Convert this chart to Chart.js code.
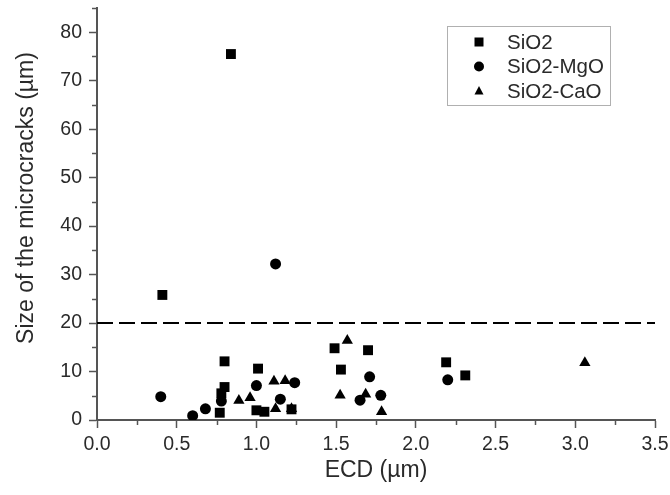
<!DOCTYPE html>
<html>
<head>
<meta charset="utf-8">
<script src="https://cdn.jsdelivr.net/npm/chart.js@4.4.1/dist/chart.umd.min.js"></script>
<style>
  html, body { margin: 0; padding: 0; background: #fff; }
</style>
</head>
<body>
<canvas id="grafico" width="670" height="495"></canvas>
<script>
// valores
const sio2X = [0.84, 0.41, 0.80, 0.78, 0.80, 0.77, 1.01, 1.00, 1.05, 1.22, 1.49, 1.53, 1.70, 2.19, 2.31];
const sio2Y = [75.5, 25.8, 12.1, 5.5, 6.8, 1.5, 10.6, 2.0, 1.7, 2.2, 14.8, 10.4, 14.4, 11.9, 9.2];

const mgoX = [0.40, 1.12, 0.60, 0.68, 0.78, 1.00, 1.15, 1.24, 1.65, 1.71, 1.78, 2.20];
const mgoY = [4.8, 32.2, 0.9, 2.3, 3.9, 7.1, 4.3, 7.7, 4.1, 8.9, 5.1, 8.3];

const caoX = [0.89, 0.96, 1.11, 1.18, 1.12, 1.22, 1.57, 1.525, 1.685, 1.785, 3.06];
const caoY = [4.0, 4.6, 8.0, 8.1, 2.3, 2.3, 16.4, 5.1, 5.3, 1.7, 11.8];

const limite = 20;
const xTicks = [0, 0.25, 0.5, 0.75, 1, 1.25, 1.5, 1.75, 2, 2.25, 2.5, 2.75, 3, 3.25, 3.5];
const yTicks = [0, 5, 10, 15, 20, 25, 30, 35, 40, 45, 50, 55, 60, 65, 70, 75, 80, 85];
const tituloY = 'Size of the microcracks (µm)';

const ejeColor = '#555';
const textoColor = '#2a2a2a';
const fuente = 'Liberation Sans, Arial, sans-serif';

function puntos(xs, ys) {
  return xs.map((x, i) => ({ x: x, y: ys[i] }));
}

function esMayorX(v) { return Math.abs(v * 2 - Math.round(v * 2)) < 1e-6; }
function esMayorY(v) { return v % 10 === 0 && v <= 80; }

// ticks menores mas cortos + titulo del eje y
const ticksMenores = {
  id: 'ticksMenores',
  afterDraw(chart) {
    const ctx = chart.ctx;
    const area = chart.chartArea;
    ctx.save();
    ctx.strokeStyle = ejeColor;
    ctx.lineWidth = 1.5;
    chart.scales.x.ticks.forEach(t => {
      if (esMayorX(t.value)) return;
      const px = Math.round(chart.scales.x.getPixelForValue(t.value)) + 0.5;
      ctx.beginPath();
      ctx.moveTo(px, area.bottom);
      ctx.lineTo(px, area.bottom + 5);
      ctx.stroke();
    });
    chart.scales.y.ticks.forEach(t => {
      if (esMayorY(t.value)) return;
      const py = Math.round(chart.scales.y.getPixelForValue(t.value)) + 0.5;
      ctx.beginPath();
      ctx.moveTo(area.left, py);
      ctx.lineTo(area.left - 5, py);
      ctx.stroke();
    });
    // titulo y, un poco por encima del centro como en el original
    ctx.translate(27, 198);
    ctx.rotate(-Math.PI / 2);
    ctx.font = '23px ' + fuente;
    ctx.fillStyle = textoColor;
    ctx.textAlign = 'center';
    ctx.textBaseline = 'middle';
    ctx.fillText(tituloY, 0, 0);
    ctx.restore();
  }
};

function dibujarMarca(ctx, estilo, x, y, r) {
  ctx.beginPath();
  if (estilo === 'rect') {
    ctx.rect(x - r, y - r, 2 * r, 2 * r);
  } else if (estilo === 'circle') {
    ctx.arc(x, y, r, 0, Math.PI * 2);
  } else {
    ctx.moveTo(x, y - r * 1.1);
    ctx.lineTo(x + r, y + r * 0.75);
    ctx.lineTo(x - r, y + r * 0.75);
    ctx.closePath();
  }
  ctx.fill();
}

// leyenda con recuadro dentro del area
const leyenda = {
  id: 'leyenda',
  afterDraw(chart) {
    const ctx = chart.ctx;
    const bx = 447, by = 26, bw = 163, bh = 79;
    ctx.save();
    ctx.strokeStyle = '#b0b0b0';
    ctx.lineWidth = 1;
    ctx.strokeRect(bx + 0.5, by + 0.5, bw, bh);
    ctx.font = '20.5px ' + fuente;
    ctx.textBaseline = 'middle';
    let fila = 0;
    chart.data.datasets.forEach(ds => {
      if (!ds.label) return;
      const cy = by + 16 + fila * 24.5;
      ctx.fillStyle = '#000';
      dibujarMarca(ctx, ds.pointStyle, bx + 32, cy, ds.pointStyle === 'circle' ? 5 : 4.5);
      ctx.fillStyle = textoColor;
      ctx.fillText(ds.label, bx + 60, cy + 1);
      fila++;
    });
    ctx.restore();
  }
};

new Chart(document.getElementById('grafico'), {
  type: 'scatter',
  data: {
    datasets: [{
      label: 'SiO2',
      data: puntos(sio2X, sio2Y),
      pointStyle: 'rect',
      pointRadius: 7,
      backgroundColor: '#000',
      borderColor: '#000',
      borderWidth: 0
    }, {
      label: 'SiO2-MgO',
      data: puntos(mgoX, mgoY),
      pointStyle: 'circle',
      pointRadius: 5.5,
      backgroundColor: '#000',
      borderColor: '#000',
      borderWidth: 0
    }, {
      label: 'SiO2-CaO',
      data: puntos(caoX, caoY),
      pointStyle: 'triangle',
      pointRadius: 6.5,
      backgroundColor: '#000',
      borderColor: '#000',
      borderWidth: 0
    }, {
      label: '',
      data: [{ x: 0, y: limite }, { x: 3.5, y: limite }],
      showLine: true,
      borderColor: '#000',
      borderWidth: 2,
      borderDash: [16, 6],
      pointRadius: 0
    }]
  },
  options: {
    responsive: false,
    animation: false,
    events: [],
    layout: { padding: { top: 8, right: 15, left: 0, bottom: 0 } },
    plugins: {
      legend: { display: false },
      tooltip: { enabled: false }
    },
    scales: {
      x: {
        type: 'linear',
        min: 0,
        max: 3.5,
        afterBuildTicks: s => { s.ticks = xTicks.map(v => ({ value: v })); },
        afterFit: s => { s.height = 75; s.paddingLeft = 0; s.paddingRight = 0; },
        border: { color: ejeColor, width: 2 },
        grid: {
          drawOnChartArea: false,
          tickLength: 8,
          tickWidth: 1.5,
          tickColor: c => esMayorX(c.tick.value) ? ejeColor : 'rgba(0,0,0,0)'
        },
        ticks: {
          autoSkip: false,
          maxRotation: 0,
          padding: 5,
          color: textoColor,
          font: { family: fuente, size: 19.5 },
          callback: v => esMayorX(v) ? v.toFixed(1) : ''
        },
        title: {
          display: true,
          text: 'ECD (µm)',
          color: textoColor,
          font: { family: fuente, size: 23 },
          padding: { top: 0, bottom: 11 }
        }
      },
      y: {
        min: 0,
        max: 85,
        afterBuildTicks: s => { s.ticks = yTicks.map(v => ({ value: v })); },
        afterFit: s => { s.width = 97; s.paddingTop = 0; s.paddingBottom = 0; },
        border: { color: ejeColor, width: 2 },
        grid: {
          drawOnChartArea: false,
          tickLength: 8,
          tickWidth: 1.5,
          tickColor: c => esMayorY(c.tick.value) ? ejeColor : 'rgba(0,0,0,0)'
        },
        ticks: {
          autoSkip: false,
          padding: 7,
          color: textoColor,
          font: { family: fuente, size: 19.5 },
          callback: v => esMayorY(v) ? String(v) : ''
        }
      }
    }
  },
  plugins: [ticksMenores, leyenda]
});
</script>
</body>
</html>
